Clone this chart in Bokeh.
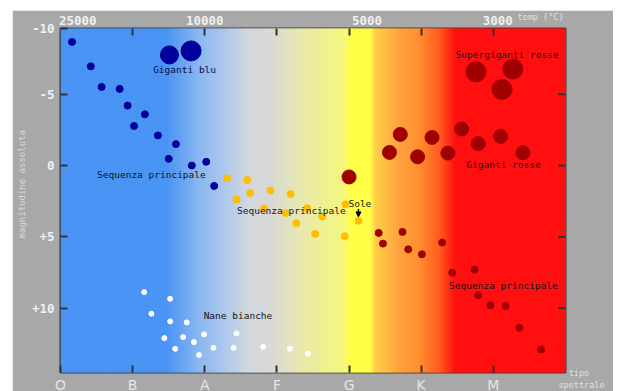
import numpy as np
from bokeh.plotting import figure
from bokeh.models import Range1d, LinearAxis, FixedTicker, Label, Arrow, NormalHead
from bokeh.embed import file_html
from bokeh.resources import INLINE

# ---- data ----
spectral_types = ["O", "B", "A", "F", "G", "K", "M"]
spectral_pos = [0, 1, 2, 3, 4, 5, 6]
temp_labels = ["25000", "10000", "5000", "3000"]
temp_pos = [0.24, 2.0, 4.25, 6.06]
mag_labels = ["-10", "-5", "0", "+5", "+10"]
Y_TOP, Y_BOTTOM = -9.6, 14.5
mag_ticks = [Y_TOP, -5, 0, 5, 10]   # "-10" sits just at the top edge
NB = "\u00a0"
margin_labels = ["temp (°C)\n\n", "\n" + NB * 10 + "tipo\n" + NB * 8 + "spettrale"]
margin_pos = [Y_TOP, Y_BOTTOM]

# background colour gradient stops (spectral-type coordinate, colour)
grad_x = [0.0, 1.47, 1.93, 2.24, 2.60, 2.88, 3.32, 3.94, 4.01, 4.29, 4.36, 4.71, 4.96, 5.26, 5.47, 7.0]
grad_col = ["#4a94f4", "#4a94f4", "#8cb8f0", "#aac6ee", "#d4d8de", "#d8d8d8", "#e8e8b0",
            "#f6f67c", "#ffff48", "#ffff48", "#ffd048", "#ffa040", "#ff9030", "#ff5a20",
            "#ff1010", "#ff1010"]

blue_ms_x = [0.16, 0.42, 0.57, 0.82, 0.93, 1.17, 1.02, 1.35, 1.60, 1.50, 1.82, 2.02, 2.13]
blue_ms_y = [-8.66, -6.95, -5.51, -5.37, -4.2, -3.59, -2.77, -2.11, -1.5, -0.47, 0.0, -0.26, 1.43]

blue_giant_x = [1.51, 1.81]
blue_giant_y = [-7.75, -8.03]

yellow_ms_x = [2.31, 2.59, 2.63, 2.44, 2.91, 3.19, 2.82, 3.12, 3.42, 3.27, 3.63, 3.53, 3.95, 4.13, 3.94]
yellow_ms_y = [0.89, 1.01, 1.92, 2.39, 1.76, 2.0, 3.0, 3.33, 3.0, 4.04, 3.57, 4.79, 2.72, 3.87, 4.95]

red_giant_x = [4.0, 4.71, 4.56, 4.95, 5.15, 5.37, 5.56, 5.79, 6.10, 6.41]
red_giant_y = [0.8, -2.18, -0.92, -0.61, -1.97, -0.87, -2.56, -1.53, -2.04, -0.89]

supergiant_x = [5.76, 6.27, 6.12]
supergiant_y = [-6.57, -6.76, -5.33]

red_ms_x = [4.41, 4.47, 4.74, 4.82, 5.01, 5.29, 5.43, 5.74, 5.79, 5.96, 6.17, 6.36, 6.66]
red_ms_y = [4.72, 5.47, 4.65, 5.87, 6.22, 5.4, 7.51, 7.3, 9.08, 9.79, 9.84, 11.36, 12.89]

dwarf_x = [1.16, 1.52, 1.26, 1.52, 1.75, 1.44, 1.70, 1.85, 1.99, 1.59, 1.92, 2.12, 2.40, 2.44, 2.81, 3.18, 3.43]
dwarf_y = [8.87, 9.34, 10.38, 10.92, 10.99, 12.09, 12.02, 12.37, 11.83, 12.84, 13.27, 12.77, 12.77, 11.76, 12.7, 12.84, 13.19]

p = figure(frame_width=505, frame_height=344, x_range=Range1d(0, 7), y_range=Range1d(Y_BOTTOM, Y_TOP),
           output_backend="svg", toolbar_location=None, x_axis_type=None, y_axis_type=None,
           min_border_left=48, min_border_right=48, min_border_top=18, min_border_bottom=19)
p.margin = (10, 0, 0, 12)
p.background_fill_color = "#4a94f4"
p.border_fill_color = "#a8a8a8"
p.outline_line_color = "#3a3a3a"
p.outline_line_width = 2
p.xgrid.visible = False
p.ygrid.visible = False

# background gradient built from the stops
def hex2rgb(h):
    return [int(h[i:i + 2], 16) for i in (1, 3, 5)]
rgb = np.array([hex2rgb(c) for c in grad_col], dtype=float)
edges = np.arange(0.0, 7.0001, 0.01)
mids = (edges[:-1] + edges[1:]) / 2
cols = ["#%02x%02x%02x" % tuple(int(round(np.interp(m, grad_x, rgb[:, k]))) for k in range(3))
        for m in mids]
p.quad(left=edges[:-1], right=edges[1:] + 0.03, top=Y_TOP, bottom=Y_BOTTOM,
       fill_color=cols, line_color=None)

TICK_COL = "#333333"
LAB_COL = "#f0f0f0"

xb = LinearAxis(ticker=FixedTicker(ticks=spectral_pos),
                major_label_overrides={k: v for k, v in zip(spectral_pos, spectral_types)})
xt = LinearAxis(ticker=FixedTicker(ticks=temp_pos, minor_ticks=spectral_pos[1:]),
                major_label_overrides={k: v for k, v in zip(temp_pos, temp_labels)})
yl = LinearAxis(ticker=FixedTicker(ticks=mag_ticks),
                major_label_overrides={k: v for k, v in zip(mag_ticks, mag_labels)})
yr = LinearAxis(ticker=FixedTicker(ticks=margin_pos),
                major_label_overrides={k: v for k, v in zip(margin_pos, margin_labels)})

for ax in (xb, xt, yl, yr):
    ax.axis_line_color = None
    ax.major_tick_in = 7
    ax.major_tick_out = 0
    ax.major_tick_line_color = TICK_COL
    ax.major_tick_line_width = 2
    ax.minor_tick_line_color = None
    ax.major_label_text_color = LAB_COL

xb.major_label_text_font = "DejaVu Sans"
xb.major_label_text_font_size = "14px"
xb.major_label_standoff = 4
xb.major_label_text_color = "#e6e6e6"

xt.major_tick_line_color = None
xt.minor_tick_line_color = TICK_COL
xt.minor_tick_line_width = 2
xt.minor_tick_in = 7
xt.minor_tick_out = 0
xt.major_label_text_font = "DejaVu Sans Mono"
xt.major_label_text_font_style = "bold"
xt.major_label_text_font_size = "12.5px"
xt.major_label_standoff = 4

yl.major_label_text_font = "DejaVu Sans Mono"
yl.major_label_text_font_style = "bold"
yl.major_label_text_font_size = "12.5px"
yl.major_label_standoff = 6
yl.axis_label = NB * 6 + "magnitudine assoluta"
yl.axis_label_text_font = "DejaVu Sans Mono"
yl.axis_label_text_font_style = "normal"
yl.axis_label_text_font_size = "9px"
yl.axis_label_text_color = "#d8d8d8"
yl.axis_label_standoff = 2

yr.major_tick_line_color = None
yr.major_label_text_font = "DejaVu Sans Mono"
yr.major_label_text_font_size = "8.5px"
yr.major_label_text_color = "#e0e0e0"
yr.major_label_text_align = "left"
yr.major_label_standoff = -48

p.add_layout(xb, "below")
p.add_layout(xt, "above")
p.add_layout(yl, "left")
p.add_layout(yr, "right")

# right-hand inward ticks
p.segment(x0=6.9, x1=7.0, y0=mag_ticks[1:], y1=mag_ticks[1:], line_color=TICK_COL, line_width=2)

# stars
p.scatter(dwarf_x, dwarf_y, size=5, color="white")
p.scatter(blue_ms_x, blue_ms_y, size=7, color="#00009c")
p.scatter(blue_giant_x, blue_giant_y, size=[18, 20], color="#00009c")
p.scatter(yellow_ms_x, yellow_ms_y, size=7, color="#ffbe00")
p.scatter(red_giant_x, red_giant_y, size=14, color="#a00000")
p.scatter(supergiant_x, supergiant_y, size=20, color="#a00000")
p.scatter(red_ms_x, red_ms_y, size=7, color="#a00000")

FONT = "DejaVu Sans Mono"
def lab(x, y, text, color="#141414", size="9.5px", align="center", **kw):
    p.add_layout(Label(x=x, y=y, text=text, text_font=FONT, text_font_size=size,
                       text_color=color, text_align=align, text_baseline="middle", **kw))

lab(1.72, -6.7, "Giganti blu", color="#0a0a40")
lab(1.26, 0.63, "Sequenza principale")
lab(3.20, 3.15, "Sequenza principale")
lab(4.15, 2.66, "Sole")
lab(6.19, -7.78, "Supergiganti rosse")
lab(6.14, -0.05, "Giganti rosse")
lab(6.14, 8.43, "Sequenza principale")
lab(2.46, 10.5, "Nane bianche")

p.add_layout(Arrow(end=NormalHead(size=5, fill_color="black", line_color="black"),
                   x_start=4.13, y_start=3.05, x_end=4.13, y_end=3.6,
                   line_color="black", line_width=1.5))

open("out.html", "w").write(file_html(p, INLINE))
